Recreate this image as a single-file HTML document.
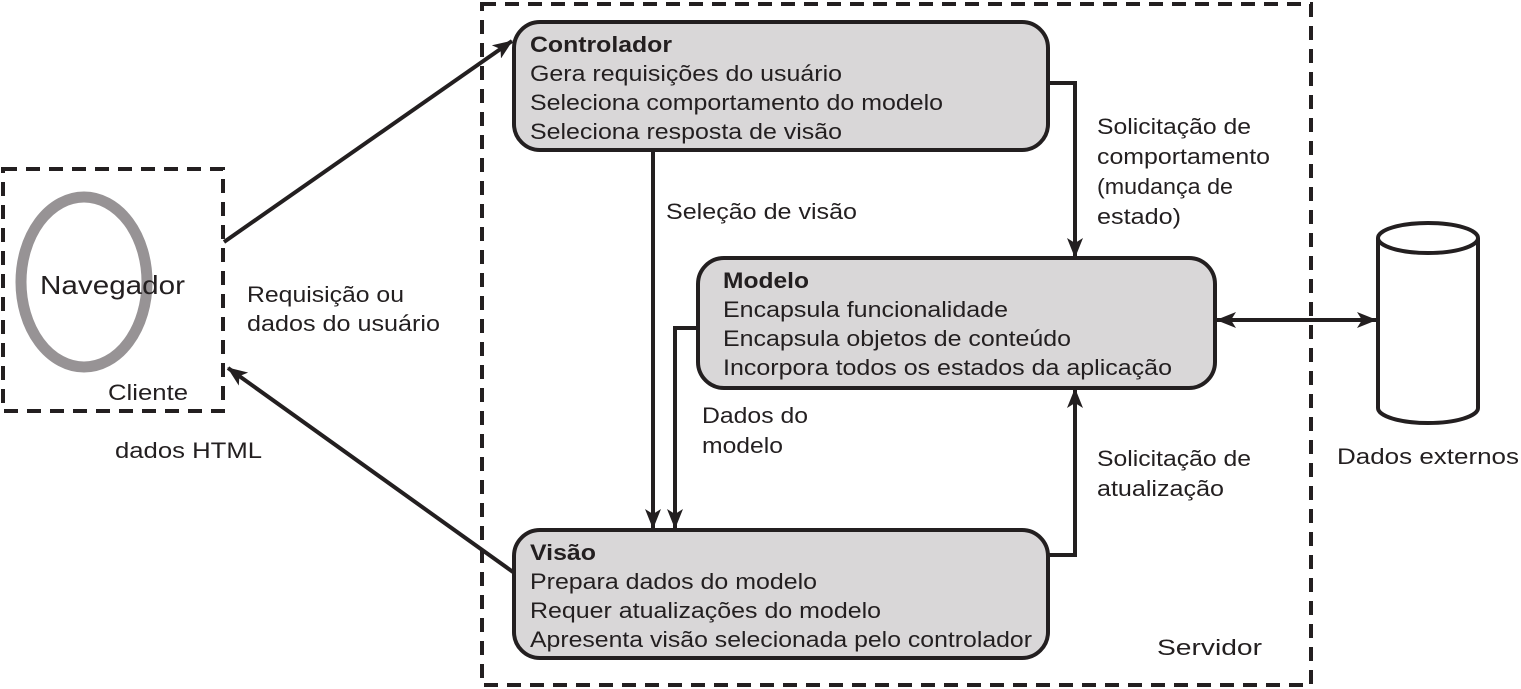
<!DOCTYPE html>
<html><head><meta charset="utf-8"><style>
html,body{margin:0;padding:0;background:#fff}
svg{display:block}
text{font-family:"Liberation Sans",Arial,sans-serif;font-size:22px;fill:#231f20}
.b{font-weight:bold}
</style></head><body>
<svg width="1521" height="689" viewBox="0 0 1521 689" xmlns="http://www.w3.org/2000/svg">
<defs>
<marker id="ah" viewBox="0 0 20 16" refX="19" refY="8" markerWidth="20" markerHeight="16" markerUnits="userSpaceOnUse" orient="auto-start-reverse">
<path d="M0,0 L20,8 L0,16 L5,8 Z" fill="#231f20"/>
</marker>
</defs>
<rect x="482" y="4" width="829" height="681" fill="none" stroke="#231f20" stroke-width="4" stroke-dasharray="14,9"/>
<rect x="3" y="169" width="220" height="242" fill="none" stroke="#231f20" stroke-width="4" stroke-dasharray="14,9"/>
<ellipse cx="84" cy="282" rx="63" ry="85" fill="none" stroke="#979395" stroke-width="11"/>
<text x="40" y="294" textLength="145" lengthAdjust="spacingAndGlyphs" style="font-size:26px">Navegador</text>
<text x="108" y="400" textLength="80" lengthAdjust="spacingAndGlyphs">Cliente</text>
<text x="115" y="458" textLength="147" lengthAdjust="spacingAndGlyphs">dados HTML</text>
<text x="247" y="302" textLength="157" lengthAdjust="spacingAndGlyphs">Requisição ou</text>
<text x="247" y="331" textLength="193" lengthAdjust="spacingAndGlyphs">dados do usuário</text>
<g stroke="#231f20" stroke-width="4" fill="none">
<line x1="224" y1="242" x2="512" y2="41" marker-end="url(#ah)"/>
<line x1="513" y1="572" x2="228" y2="368" marker-end="url(#ah)"/>
<line x1="653" y1="150" x2="653" y2="528" marker-end="url(#ah)"/>
<polyline points="698,328 675,328 675,528" marker-end="url(#ah)"/>
<polyline points="1048,83 1075,83 1075,257" marker-end="url(#ah)"/>
<polyline points="1048,555 1075,555 1075,389" marker-end="url(#ah)"/>
<line x1="1217" y1="320" x2="1376" y2="320" marker-start="url(#ah)" marker-end="url(#ah)"/>
</g>
<g fill="#d9d7d8" stroke="#231f20" stroke-width="4">
<rect x="514" y="22" width="534" height="128" rx="26"/>
<rect x="698" y="258" width="517" height="130" rx="26"/>
<rect x="514" y="530" width="534" height="128" rx="26"/>
</g>
<text x="530" y="52" class="b" textLength="142" lengthAdjust="spacingAndGlyphs">Controlador</text>
<text x="530" y="81" textLength="312" lengthAdjust="spacingAndGlyphs">Gera requisições do usuário</text>
<text x="530" y="110" textLength="413" lengthAdjust="spacingAndGlyphs">Seleciona comportamento do modelo</text>
<text x="530" y="139" textLength="312" lengthAdjust="spacingAndGlyphs">Seleciona resposta de visão</text>
<text x="723" y="288" class="b" textLength="86" lengthAdjust="spacingAndGlyphs">Modelo</text>
<text x="723" y="317" textLength="285" lengthAdjust="spacingAndGlyphs">Encapsula funcionalidade</text>
<text x="723" y="346" textLength="348" lengthAdjust="spacingAndGlyphs">Encapsula objetos de conteúdo</text>
<text x="723" y="375" textLength="449" lengthAdjust="spacingAndGlyphs">Incorpora todos os estados da aplicação</text>
<text x="530" y="560" class="b" textLength="66" lengthAdjust="spacingAndGlyphs">Visão</text>
<text x="530" y="589" textLength="287" lengthAdjust="spacingAndGlyphs">Prepara dados do modelo</text>
<text x="530" y="618" textLength="351" lengthAdjust="spacingAndGlyphs">Requer atualizações do modelo</text>
<text x="530" y="647" textLength="502" lengthAdjust="spacingAndGlyphs">Apresenta visão selecionada pelo controlador</text>
<text x="666" y="219" textLength="191" lengthAdjust="spacingAndGlyphs">Seleção de visão</text>
<text x="702" y="423" textLength="106" lengthAdjust="spacingAndGlyphs">Dados do</text>
<text x="702" y="453" textLength="81" lengthAdjust="spacingAndGlyphs">modelo</text>
<text x="1097" y="134" textLength="154" lengthAdjust="spacingAndGlyphs">Solicitação de</text>
<text x="1097" y="164" textLength="173" lengthAdjust="spacingAndGlyphs">comportamento</text>
<text x="1097" y="194" textLength="136" lengthAdjust="spacingAndGlyphs">(mudança de</text>
<text x="1097" y="224" textLength="84" lengthAdjust="spacingAndGlyphs">estado)</text>
<text x="1097" y="466" textLength="154" lengthAdjust="spacingAndGlyphs">Solicitação de</text>
<text x="1097" y="496" textLength="127" lengthAdjust="spacingAndGlyphs">atualização</text>
<text x="1157" y="655" textLength="105" lengthAdjust="spacingAndGlyphs">Servidor</text>
<text x="1337" y="464" textLength="182" lengthAdjust="spacingAndGlyphs">Dados externos</text>
<g fill="#fff" stroke="#231f20" stroke-width="4">
<path d="M1378,238 L1378,408 A50,15 0 0 0 1478,408 L1478,238"/>
<ellipse cx="1428" cy="238" rx="50" ry="15"/>
</g>
</svg>
</body></html>
